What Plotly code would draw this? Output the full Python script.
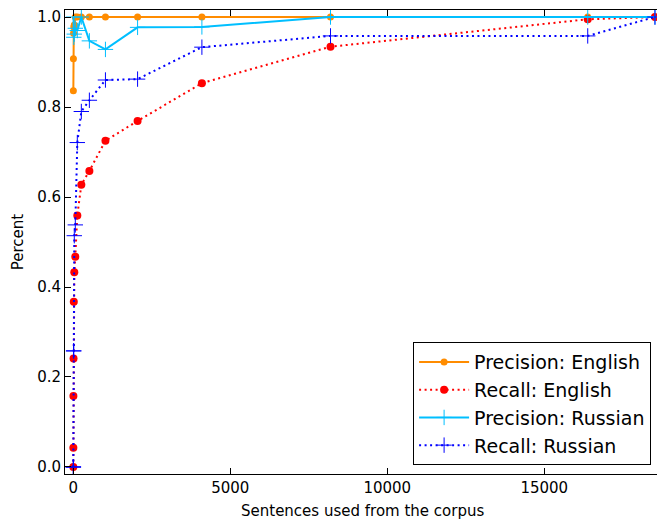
import plotly.graph_objects as go

sentences = [1, 2, 4, 8, 16, 32, 64, 128, 256, 512, 1024, 2048, 4096, 8192, 16384, 18525]
precision_en = [None, 0.836, 0.907, 0.964, 0.978, 0.982, 1.0, 1.0, 1.0, 1.0, 1.0, 1.0, 1.0, 1.0, 1.0, 1.0]
recall_en = [0.0, 0.043, 0.158, 0.241, 0.367, 0.433, 0.467, 0.559, 0.627, 0.658, 0.725, 0.769, 0.853, 0.934, 0.995, 1.0]
precision_ru = [None, None, None, 1.0, 0.955, 0.962, 0.975, 0.97, 1.0, 0.947, 0.928, 0.977, 0.978, 1.0, 1.0, 1.0]
recall_ru = [0.0, 0.0, 0.0, 0.258, 0.258, 0.514, 0.538, 0.721, 0.79, 0.815, 0.86, 0.862, 0.933, 0.958, 0.958, 1.0]

x_ticks = [0, 5000, 10000, 15000]
y_ticks = [0.0, 0.2, 0.4, 0.6, 0.8, 1.0]

FONT = "DejaVu Sans"
fig = go.Figure()

fig.add_trace(go.Scatter(
    x=sentences, y=precision_en, name="Precision: English", mode="lines+markers",
    line=dict(color="#FF8C00", width=2),
    marker=dict(symbol="circle", size=7, color="#FF8C00"),
    legendgroup="a", connectgaps=False))
fig.add_trace(go.Scatter(
    x=sentences, y=recall_en, name="Recall: English", mode="lines+markers",
    line=dict(color="#FF0000", width=2, dash="2px,3.5px"),
    marker=dict(symbol="circle", size=8, color="#FF0000"),
    legendgroup="b"))
fig.add_trace(go.Scatter(
    x=sentences, y=precision_ru, name="Precision: Russian", mode="lines+markers",
    line=dict(color="#00BFFF", width=2),
    marker=dict(symbol="cross-thin", size=11, color="#00BFFF", line=dict(color="#00BFFF", width=1)),
    legendgroup="c"))
fig.add_trace(go.Scatter(
    x=sentences, y=recall_ru, name="Recall: Russian", mode="lines+markers",
    line=dict(color="#0000FF", width=2, dash="2px,3.5px"),
    marker=dict(symbol="cross-thin", size=11, color="#0000FF", line=dict(color="#0000FF", width=1)),
    legendgroup="d"))

fig.update_layout(
    width=657, height=520,
    margin=dict(l=65, r=0, t=10, b=46, autoexpand=False),
    paper_bgcolor="white", plot_bgcolor="white",
    font=dict(family=FONT, size=15, color="black"),
    legend=dict(
        x=0.588, y=0.019, xanchor="left", yanchor="bottom",
        bordercolor="black", borderwidth=1, bgcolor="white",
        font=dict(family=FONT, size=19, color="black"),
        traceorder="grouped", tracegroupgap=0, itemwidth=50,
    ),
    xaxis=dict(
        range=[-264, 18590], tickvals=x_ticks, ticktext=[str(v) for v in x_ticks],
        showgrid=False, zeroline=False, showline=True, linecolor="black", linewidth=1,
        mirror="ticks", ticks="inside", ticklen=6, tickcolor="black",
        tickfont=dict(size=15), automargin=False,
    ),
    yaxis=dict(
        range=[-0.0156, 1.0156], tickvals=y_ticks, tickformat=".1f",
        showgrid=False, zeroline=False, showline=True, linecolor="black", linewidth=1,
        mirror=False, ticks="inside", ticklen=6, tickcolor="black",
        tickfont=dict(size=15), automargin=False,
    ),
    annotations=[
        dict(text="Sentences used from the corpus", xref="paper", yref="paper",
             x=0.503, y=-0.0797, xanchor="center", yanchor="middle", showarrow=False,
             font=dict(family=FONT, size=15, color="black")),
        dict(text="Percent", xref="paper", yref="paper",
             x=-0.079, y=0.5, xanchor="center", yanchor="middle", showarrow=False,
             textangle=-90, font=dict(family=FONT, size=15, color="black")),
    ],
)

fig.write_html(
    "out.html",
    config={"displayModeBar": False},
    post_script="document.body.style.margin='0';document.body.style.overflow='hidden';",
)
